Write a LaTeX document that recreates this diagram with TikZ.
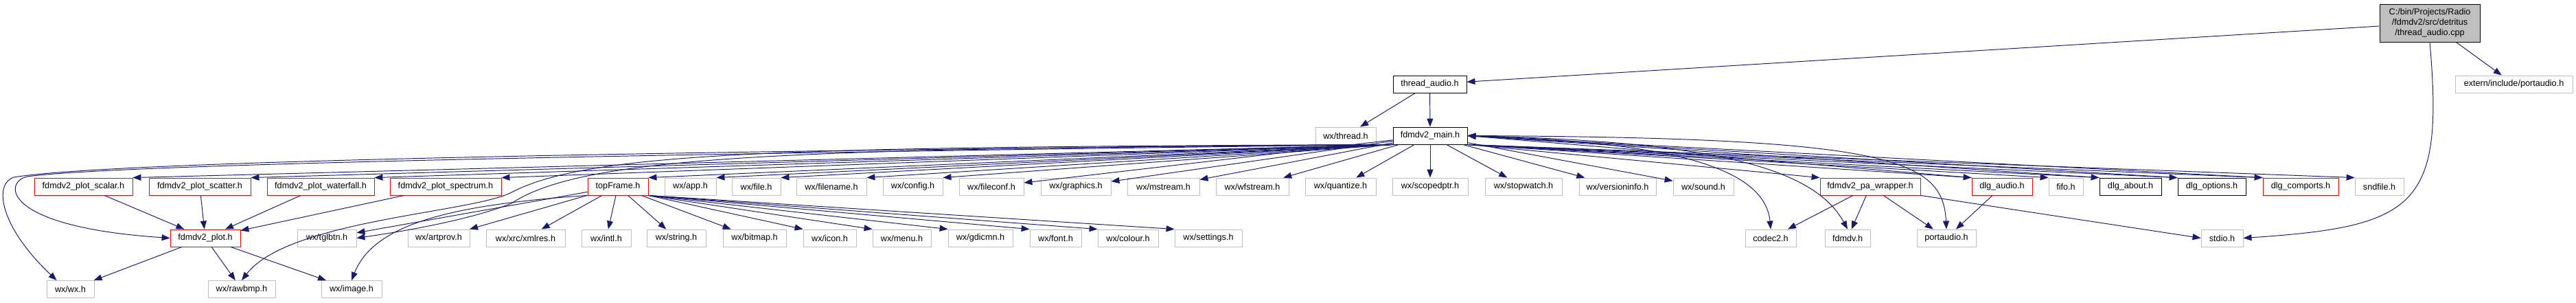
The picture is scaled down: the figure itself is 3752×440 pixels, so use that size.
\documentclass[tikz,border=0pt]{standalone}
\usepackage{fontspec}
\setmainfont{Liberation Sans}
\usepackage{tikz}
\usetikzlibrary{positioning, arrows.meta}

\definecolor{edgeblue}{HTML}{191970}
\definecolor{boxgray}{HTML}{BFBFBF}

\begin{document}
\begin{tikzpicture}[x=0.02cm, y=-0.02cm,
  hfile/.style={rectangle, minimum height=0.5cm, inner sep=0pt, line width=0.5pt, font=\fontsize{7.2}{8.6}\selectfont},
  grayfile/.style={hfile, draw=boxgray},
  redfile/.style={hfile, draw=red},
  blackfile/.style={hfile, draw=black},
  inc/.style={draw=edgeblue, line width=0.55pt, -{Triangle[length=0.24cm, width=0.18cm]}}]

\useasboundingbox (0,0) rectangle (3752,440);

% Source file
\node[hfile, draw=black, fill=boxgray, minimum width=2.92cm, minimum height=1.1cm, align=center] (root) at (3539,33.5) {C:/bin/Projects/Radio\\/fdmdv2/src/detritus\\/thread\_audio.cpp};

% Level 1
\node[blackfile, minimum width=2.14cm] (thraud) at (2082.5,122.5) {thread\_audio.h};
\node[grayfile, minimum width=3.42cm] (extpa) at (3661.5,122.5) {extern/include/portaudio.h};

% Level 2
\node[grayfile, minimum width=1.76cm] (wxthread) at (1960,197.5) {wx/thread.h};
\node[blackfile, minimum width=2.16cm] (fmain) at (2083,197.5) {fdmdv2\_main.h};

% Level 3
\node[redfile, minimum width=2.86cm] (pscalar) at (121.5,271.5) {fdmdv2\_plot\_scalar.h};
\node[redfile, minimum width=2.96cm] (pscatter) at (291,271.5) {fdmdv2\_plot\_scatter.h};
\node[redfile, minimum width=3.12cm] (pwater) at (467,271.5) {fdmdv2\_plot\_waterfall.h};
\node[redfile, minimum width=3.24cm] (pspec) at (649,271.5) {fdmdv2\_plot\_spectrum.h};
\node[redfile, minimum width=1.76cm] (topframe) at (900,271.5) {topFrame.h};
\node[grayfile, minimum width=1.50cm] (wxapp) at (1005.5,271.5) {wx/app.h};
\node[grayfile, minimum width=1.42cm] (wxfile) at (1101.5,271.5) {wx/file.h};
\node[grayfile, minimum width=2.04cm] (wxfname) at (1211,271.5) {wx/filename.h};
\node[grayfile, minimum width=1.74cm] (wxconfig) at (1329.5,271.5) {wx/config.h};
\node[grayfile, minimum width=1.88cm] (wxfconf) at (1444,271.5) {wx/fileconf.h};
\node[grayfile, minimum width=2.04cm] (wxgraph) at (1567,271.5) {wx/graphics.h};
\node[grayfile, minimum width=2.10cm] (wxmstream) at (1694.5,271.5) {wx/mstream.h};
\node[grayfile, minimum width=2.12cm] (wxwfstream) at (1824,271.5) {wx/wfstream.h};
\node[grayfile, minimum width=2.06cm] (wxquant) at (1952.5,271.5) {wx/quantize.h};
\node[grayfile, minimum width=2.20cm] (wxscoped) at (2083,271.5) {wx/scopedptr.h};
\node[grayfile, minimum width=2.24cm] (wxstopw) at (2219,271.5) {wx/stopwatch.h};
\node[grayfile, minimum width=2.24cm] (wxversion) at (2356,271.5) {wx/versioninfo.h};
\node[grayfile, minimum width=1.76cm] (wxsound) at (2481,271.5) {wx/sound.h};
\node[redfile, minimum width=2.92cm] (pawrap) at (2724,271.5) {fdmdv2\_pa\_wrapper.h};
\node[redfile, minimum width=1.76cm] (dlgaudio) at (2916,271.5) {dlg\_audio.h};
\node[grayfile, minimum width=1.00cm] (fifo) at (3009,271.5) {fifo.h};
\node[blackfile, minimum width=1.80cm] (dlgabout) at (3103,271.5) {dlg\_about.h};
\node[blackfile, minimum width=1.98cm] (dlgopt) at (3221.5,271.5) {dlg\_options.h};
\node[redfile, minimum width=2.20cm] (dlgcomp) at (3351,271.5) {dlg\_comports.h};
\node[grayfile, minimum width=1.42cm] (sndfile) at (3465.5,271.5) {sndfile.h};

% Level 4
\node[redfile, minimum width=2.04cm] (fplot) at (299,346.5) {fdmdv2\_plot.h};
\node[grayfile, minimum width=1.72cm] (wxtgl) at (476,346.5) {wx/tglbtn.h};
\node[grayfile, minimum width=1.80cm] (wxart) at (639,346.5) {wx/artprov.h};
\node[grayfile, minimum width=2.30cm] (wxxml) at (765.5,346.5) {wx/xrc/xmlres.h};
\node[grayfile, minimum width=1.44cm] (wxintl) at (883,346.5) {wx/intl.h};
\node[grayfile, minimum width=1.72cm] (wxstring) at (985,346.5) {wx/string.h};
\node[grayfile, minimum width=1.84cm] (wxbitmap) at (1099,346.5) {wx/bitmap.h};
\node[grayfile, minimum width=1.54cm] (wxicon) at (1208.5,346.5) {wx/icon.h};
\node[grayfile, minimum width=1.70cm] (wxmenu) at (1313.5,346.5) {wx/menu.h};
\node[grayfile, minimum width=1.88cm] (wxgdi) at (1428,346.5) {wx/gdicmn.h};
\node[grayfile, minimum width=1.50cm] (wxfont) at (1537.5,346.5) {wx/font.h};
\node[grayfile, minimum width=1.76cm] (wxcolour) at (1643,346.5) {wx/colour.h};
\node[grayfile, minimum width=1.96cm] (wxsettings) at (1760,346.5) {wx/settings.h};
\node[grayfile, minimum width=1.48cm] (codec) at (2579,346.5) {codec2.h};
\node[grayfile, minimum width=1.32cm] (fdmdv) at (2691,346.5) {fdmdv.h};
\node[grayfile, minimum width=1.72cm] (portaudio) at (2835,346.5) {portaudio.h};
\node[grayfile, minimum width=1.22cm] (stdio) at (3236.5,346.5) {stdio.h};

% Level 5
\node[grayfile, minimum width=1.38cm] (wxwx) at (102.5,421) {wx/wx.h};
\node[grayfile, minimum width=1.96cm] (wxraw) at (352,421) {wx/rawbmp.h};
\node[grayfile, minimum width=1.76cm] (wximage) at (512,421) {wx/image.h};

% Source includes
\draw[inc] (root) -- (thraud);
\draw[inc] (root) -- (extpa);
\draw[inc] (root.south) .. controls (3560,300) and (3520,330) .. (stdio.east);

% thread_audio.h
\draw[inc] (thraud) -- (wxthread);
\draw[inc] (thraud) -- (fmain);

% fdmdv2_main.h, left side
\draw[inc] (fmain.south west) .. controls (900,220) and (150,236) .. (20,258) .. controls (-10,268) and (0,330) .. ([xshift=0.3cm]wxwx.north west);
\draw[inc] (fmain.south west) .. controls (900,224) and (160,240) .. (40,257) .. controls (5,264) and (0,330) .. (fplot.west);
\draw[inc] (fmain.south west) .. controls (1150,214) and (860,220) .. (745,280) .. controls (687,310) and (420,320) .. (wxraw.north);
\draw[inc] (fmain.south west) .. controls (1150,216) and (850,226) .. (745,296) .. controls (690,318) and (600,335) .. (wxtgl.east);
\draw[inc] (fmain.south west) -- (pscalar.north east);
\draw[inc] (fmain.south west) -- (pscatter.north east);
\draw[inc] (fmain.south west) -- (pwater.north east);
\draw[inc] (fmain.south west) -- (pspec.north east);
\draw[inc] (fmain.south west) -- (topframe.north east);
\draw[inc] (fmain.south west) -- (wxapp.north east);
\draw[inc] (fmain.south west) -- (wxfile.north east);
\draw[inc] (fmain.south west) -- (wxfname.north east);
\draw[inc] (fmain.south west) -- (wxconfig.north east);
\draw[inc] (fmain) -- (wxfconf);
\draw[inc] (fmain) -- (wxgraph);
\draw[inc] (fmain) -- (wxmstream);
\draw[inc] (fmain) -- (wxwfstream);
\draw[inc] (fmain) -- (wxquant);
\draw[inc] (fmain) -- (wxscoped);
\draw[inc] (fmain) -- (wxstopw);
\draw[inc] (fmain) -- (wxversion);
\draw[inc] (fmain) -- (wxsound);

% fdmdv2_main.h, right side
\draw[inc] (fmain.south east) -- (pawrap.north west);
\draw[inc] (fmain.south east) -- (dlgaudio.north west);
\draw[inc] (fmain.south east) -- (fifo.north west);
\draw[inc] (fmain.south east) -- (dlgabout.north west);
\draw[inc] (fmain.south east) -- (dlgopt.north west);
\draw[inc] (fmain.south east) -- (dlgcomp.north west);
\draw[inc] (fmain.south east) -- (sndfile.north west);
\draw[inc] (fmain.east) .. controls (2400,205) and (2570,235) .. (codec.north);
\draw[inc] (fmain.east) .. controls (2480,205) and (2640,240) .. (fdmdv.north);
\draw[inc] (fmain.east) .. controls (2750,200) and (2830,230) .. (portaudio.north);

% Dialogs back to main
\draw[inc] (dlgaudio.north west) -- (fmain.east);
\draw[inc] (dlgabout.north west) -- (fmain.east);
\draw[inc] (dlgopt.north west) -- (fmain.east);
\draw[inc] (dlgcomp.north west) -- (fmain.east);

% Plot headers
\draw[inc] (pscalar) -- (fplot);
\draw[inc] (pscatter) -- (fplot);
\draw[inc] (pwater) -- (fplot);
\draw[inc] (pspec) -- (fplot);
\draw[inc] (fplot) -- (wxwx);
\draw[inc] (fplot) -- (wxraw);
\draw[inc] (fplot) -- (wximage);

% topFrame.h
\draw[inc] (topframe) -- (wxtgl);
\draw[inc] (topframe) -- (wxart);
\draw[inc] (topframe.south west) .. controls (660,298) and (545,325) .. (wximage.north);
\draw[inc] (topframe) -- (wxxml);
\draw[inc] (topframe) -- (wxintl);
\draw[inc] (topframe) -- (wxstring);
\draw[inc] (topframe) -- (wxbitmap);
\draw[inc] (topframe.south east) -- (wxicon.north west);
\draw[inc] (topframe.south east) -- (wxmenu.north west);
\draw[inc] (topframe.south east) -- (wxgdi.north west);
\draw[inc] (topframe.south east) -- (wxfont.north west);
\draw[inc] (topframe.south east) -- (wxcolour.north west);
\draw[inc] (topframe.south east) -- (wxsettings.north west);

% Audio
\draw[inc] (pawrap) -- (codec);
\draw[inc] (pawrap) -- (fdmdv);
\draw[inc] (pawrap) -- (portaudio);
\draw[inc] (pawrap.south east) -- (stdio.west);
\draw[inc] (dlgaudio) -- (portaudio);

\end{tikzpicture}
\end{document}
